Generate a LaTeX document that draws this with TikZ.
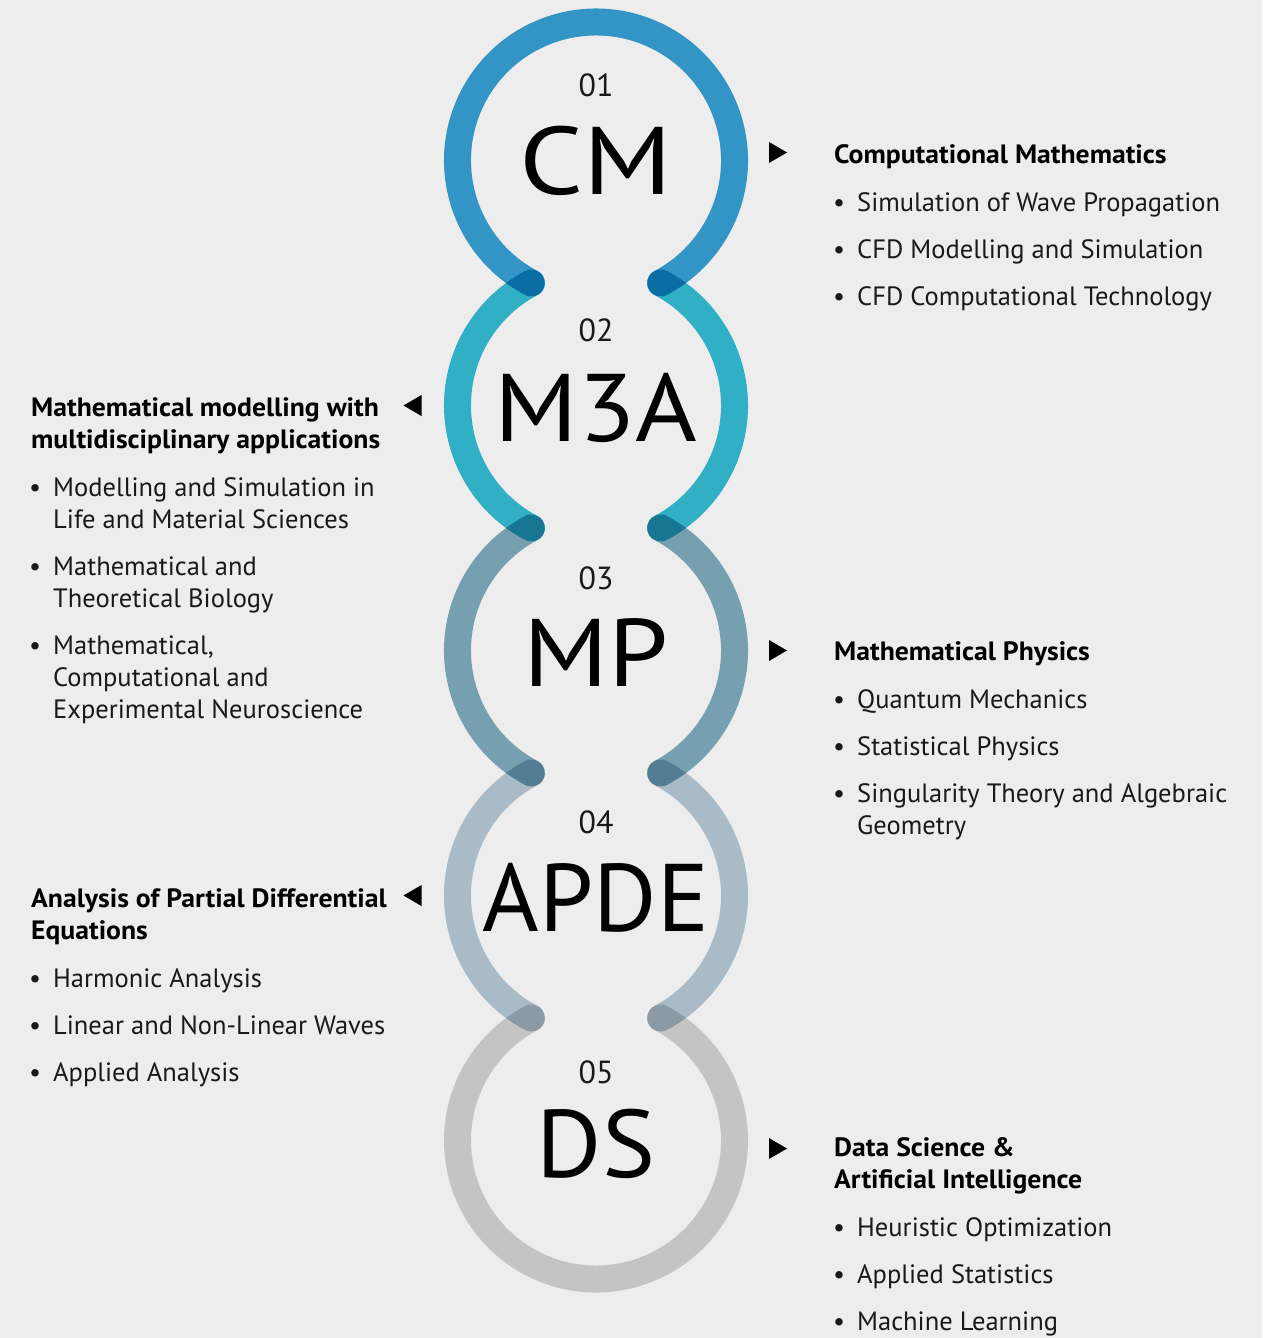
\documentclass[tikz,border=0pt]{standalone}
\usepackage{fontspec}
\setmainfont{PT Sans}
\newfontfamily\headfont[FakeStretch=1.045]{PT Sans Bold}
\definecolor{bgc}{RGB}{237,237,237}
\definecolor{cmc}{RGB}{54,161,214}
\definecolor{mac}{RGB}{52,189,212}
\definecolor{mpc}{RGB}{127,172,189}
\definecolor{apc}{RGB}{181,202,215}
\definecolor{dsc}{RGB}{211,211,211}
\definecolor{txtc}{RGB}{25,25,25}
\newcommand\bulletmark{\llap{\textbullet\hspace{12pt}}}
\newcommand\wide[2]{\scalebox{#1}[1]{#2}}
\tikzset{
  ringarc/.style={line width=27pt, line cap=round},
  bigtxt/.style={inner sep=0pt, text height=67pt, text depth=0pt, font=\fontsize{96}{100}\selectfont, text=black},
  numtxt/.style={inner sep=0pt, text height=22.5pt, text depth=0pt, font=\fontsize{32}{34}\selectfont, text=txtc},
  itemtxt/.style={anchor=base west, inner sep=0pt, font=\fontsize{26.5}{32}\selectfont, text=txtc},
  headtxt/.style={anchor=base west, inner sep=0pt, font=\fontsize{26.5}{32}\headfont, text=black},
  marker/.style={fill=black}
}
\begin{document}
\begin{tikzpicture}[x=1pt,y=-1pt]
\fill[bgc] (0,0) rectangle (1262,1338);
\useasboundingbox (0,0) rectangle (1262,1338);
% ring centres
\coordinate (c1) at (596,160.5);
\coordinate (c2) at (596,405.5);
\coordinate (c3) at (596,650.5);
\coordinate (c4) at (596,895.5);
\coordinate (c5) at (596,1140.5);
\begin{scope}[blend mode=multiply]
\draw[ringarc, cmc] ([shift={(117.8:138.5)}]c1) arc[start angle=117.8, end angle=422.2, radius=138.5];
\draw[ringarc, mac] ([shift={(117.8:138.5)}]c2) arc[start angle=117.8, end angle=242.2, radius=138.5];
\draw[ringarc, mac] ([shift={(-62.2:138.5)}]c2) arc[start angle=-62.2, end angle=62.2, radius=138.5];
\draw[ringarc, mpc] ([shift={(117.8:138.5)}]c3) arc[start angle=117.8, end angle=242.2, radius=138.5];
\draw[ringarc, mpc] ([shift={(-62.2:138.5)}]c3) arc[start angle=-62.2, end angle=62.2, radius=138.5];
\draw[ringarc, apc] ([shift={(117.8:138.5)}]c4) arc[start angle=117.8, end angle=242.2, radius=138.5];
\draw[ringarc, apc] ([shift={(-62.2:138.5)}]c4) arc[start angle=-62.2, end angle=62.2, radius=138.5];
\draw[ringarc, dsc] ([shift={(-62.2:138.5)}]c5) arc[start angle=-62.2, end angle=242.2, radius=138.5];
\end{scope}
% ring labels
\node[numtxt] (n1) at (596,85.5) {01};
\node[bigtxt] (b1) at (596,161) {\wide{1.17}{CM}};
\node[numtxt] (n2) at (596,330) {02};
\node[bigtxt] (b2) at (596,408) {\wide{1.1}{M3A}};
\node[numtxt] (n3) at (596,578) {03};
\node[bigtxt] (b3) at (596,653) {\wide{1.12}{MP}};
\node[numtxt] (n4) at (596,822) {04};
\node[bigtxt] (b4) at (596,898) {\wide{1.01}{APDE}};
\node[numtxt] (n5) at (596,1072.5) {05};
\node[bigtxt] (b5) at (596,1144) {\wide{1.04}{DS}};
% markers
\coordinate (m1) at (778,152.5);
\coordinate (m2) at (412.5,405.5);
\coordinate (m3) at (778,650.5);
\coordinate (m4) at (412.5,895.5);
\coordinate (m5) at (778,1148.5);
\foreach \m in {m1,m3,m5}{\fill[marker] ([shift={(-9,-10.5)}]\m) -- ++(18,10.5) -- ++(-18,10.5) -- cycle;}
\foreach \m in {m2,m4}{\fill[marker] ([shift={(9,-10.5)}]\m) -- ++(-18,10.5) -- ++(18,10.5) -- cycle;}
% CM text
\node[headtxt] (h1) at (834,163) {Computational Mathematics};
\node[itemtxt] (i11) at (857,211) {\bulletmark Simulation of Wave Propagation};
\node[itemtxt] (i12) at (857,258) {\bulletmark CFD Modelling and Simulation};
\node[itemtxt] (i13) at (857,305) {\bulletmark CFD Computational Technology};
% M3A text
\node[headtxt] (h2a) at (31,416) {Mathematical modelling with};
\node[headtxt] (h2b) at (31,448) {multidisciplinary applications};
\node[itemtxt] (i21a) at (53,496) {\bulletmark Modelling and Simulation in};
\node[itemtxt] (i21b) at (53,528) {Life and Material Sciences};
\node[itemtxt] (i22a) at (53,575) {\bulletmark Mathematical and};
\node[itemtxt] (i22b) at (53,607) {Theoretical Biology};
\node[itemtxt] (i23a) at (53,654) {\bulletmark Mathematical,};
\node[itemtxt] (i23b) at (53,686) {Computational and};
\node[itemtxt] (i23c) at (53,718) {Experimental Neuroscience};
% MP text
\node[headtxt] (h3) at (834,660) {Mathematical Physics};
\node[itemtxt] (i31) at (857,708) {\bulletmark Quantum Mechanics};
\node[itemtxt] (i32) at (857,755) {\bulletmark Statistical Physics};
\node[itemtxt] (i33a) at (857,802) {\bulletmark Singularity Theory and Algebraic};
\node[itemtxt] (i33b) at (857,834) {Geometry};
% APDE text
\node[headtxt] (h4a) at (31,907) {Analysis of Partial Differential};
\node[headtxt] (h4b) at (31,939) {Equations};
\node[itemtxt] (i41) at (53,987) {\bulletmark Harmonic Analysis};
\node[itemtxt] (i42) at (53,1034) {\bulletmark Linear and Non-Linear Waves};
\node[itemtxt] (i43) at (53,1081) {\bulletmark Applied Analysis};
% DS text
\node[headtxt] (h5a) at (834,1156) {Data Science \&};
\node[headtxt] (h5b) at (834,1188) {Artificial Intelligence};
\node[itemtxt] (i51) at (857,1236) {\bulletmark Heuristic Optimization};
\node[itemtxt] (i52) at (857,1283) {\bulletmark Applied Statistics};
\node[itemtxt] (i53) at (857,1330) {\bulletmark Machine Learning};
\end{tikzpicture}
\end{document}
